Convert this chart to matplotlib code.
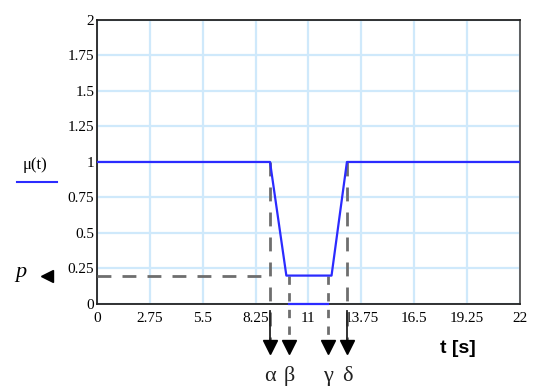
import matplotlib
matplotlib.use("Agg")
import matplotlib.pyplot as plt

# curve mu(t)
t_pts = [0, 9.0, 9.85, 12.2, 13.0, 22]
mu_pts = [1, 1, 0.2, 0.2, 1, 1]

# markers on the time axis
alpha_t, beta_t, gamma_t, delta_t = 9.0, 10.0, 12.0, 13.0
p_level = 0.2
zero_seg = [10.0, 12.0]

x_ticks = [0, 2.75, 5.5, 8.25, 11, 13.75, 16.5, 19.25, 22]
x_labels = ["0", "2.75", "5.5", "8.25", "11", "13.75", "16.5", "19.25", "22"]
y_ticks = [0, 0.25, 0.5, 0.75, 1, 1.25, 1.5, 1.75, 2]
y_labels = ["0", "0.25", "0.5", "0.75", "1", "1.25", "1.5", "1.75", "2"]

serif = "Liberation Serif"
grey = "#6e6e6e"
blue = "#2b2bff"

fig = plt.figure(figsize=(5.34, 3.87), dpi=100)
ax = fig.add_axes([0.1816, 0.2145, 0.7921, 0.7339])

ax.set_xlim(0, 22)
ax.set_ylim(0, 2)
ax.set_xticks(x_ticks)
ax.set_xticklabels(x_labels, fontfamily=serif, fontsize=11)
ax.set_yticks(y_ticks)
ax.set_yticklabels(y_labels, fontfamily=serif, fontsize=11)
ax.tick_params(axis="y", length=0, pad=2)
ax.tick_params(axis="x", length=0, pad=6)
ax.grid(True, color="#cfe9fb", linewidth=1.6)
ax.set_axisbelow(True)
for side in ["top", "bottom", "left", "right"]:
    ax.spines[side].set_linewidth(1.3)
    ax.spines[side].set_color("#222222")
ax.spines["right"].set_color("#555555")

# dashed guides
ax.plot([0, alpha_t], [p_level, p_level], color=grey, lw=2, ls=(0, (5, 4)), zorder=3)
for xv in [alpha_t, delta_t]:
    ax.plot([xv, xv], [1, -0.26], color=grey, lw=2, ls=(0, (5, 4)),
            clip_on=False, zorder=3)
for xv in [beta_t, gamma_t]:
    ax.plot([xv, xv], [p_level, -0.26], color=grey, lw=2, ls=(0, (3, 3)),
            clip_on=False, zorder=3)
for xv in [alpha_t, delta_t]:
    ax.plot([xv, xv], [-0.05, -0.26], color="#222222", lw=1.3, clip_on=False, zorder=3)

# arrow heads
for xv in [alpha_t, beta_t, gamma_t, delta_t]:
    ax.plot(xv, -0.3, marker="v", color="black", markersize=10,
            clip_on=False, zorder=4)

ax.plot(t_pts, mu_pts, color=blue, lw=1.6, zorder=5)
ax.plot(zero_seg, [0, 0], color=blue, lw=1.6, zorder=5, clip_on=False)

# greek labels
for xv, s in zip([alpha_t, beta_t, gamma_t, delta_t], ["α", "β", "γ", "δ"]):
    ax.text(xv, -0.51, s, ha="center", va="center", fontsize=16,
            fontfamily=serif, color="#222222", clip_on=False)

fig.text(0.857, 0.10, "t [s]", ha="center", va="center", fontsize=14,
         fontweight="bold", fontfamily="Liberation Sans")

# legend-like label
fig.text(0.066, 0.574, "μ(t)", ha="center", va="center", fontsize=12,
         fontfamily=serif)
fig.lines.append(plt.Line2D([0.032, 0.107], [0.530, 0.530], color=blue, lw=1.5,
                            transform=fig.transFigure))

# p marker
fig.text(0.04, 0.295, "p", ha="center", va="center", fontsize=16,
         fontstyle="italic", fontfamily=serif)
fig.lines.append(plt.Line2D([0.088], [0.288], marker="<", color="black",
                            markersize=9, transform=fig.transFigure))

fig.savefig("out.png", dpi=100)
